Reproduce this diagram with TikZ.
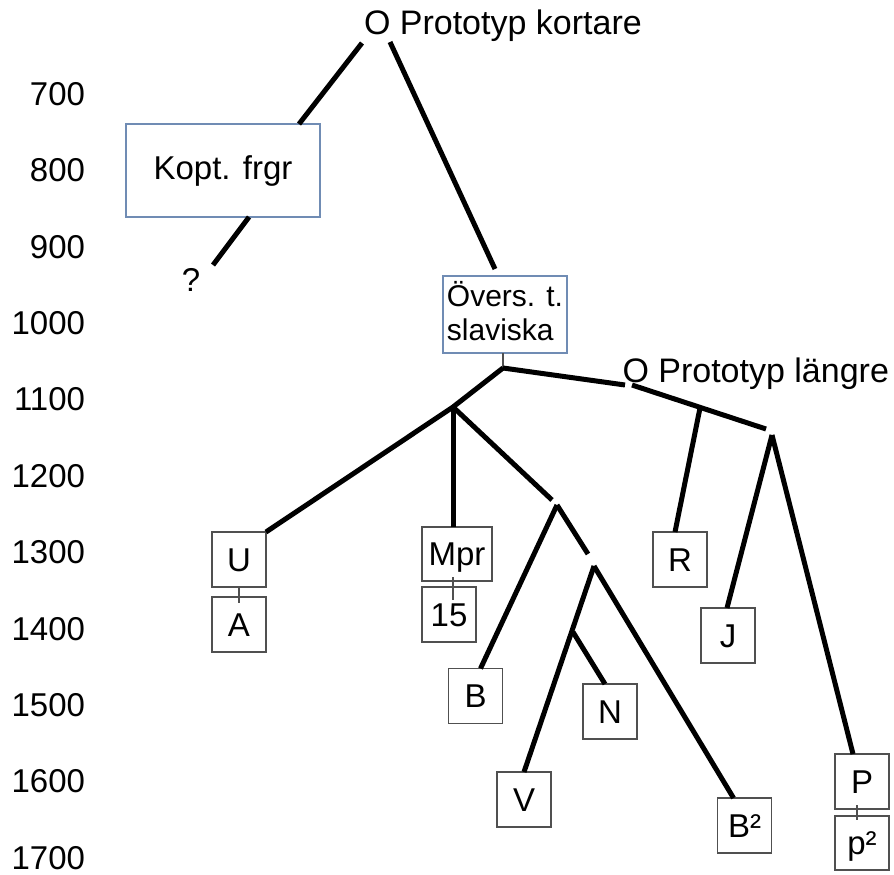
\documentclass[tikz,border=0pt]{standalone}
\usepackage{fontspec}
\setmainfont{Liberation Sans}
\definecolor{noteblue}{RGB}{112,140,180}
\definecolor{boxgray}{RGB}{80,80,80}
\begin{document}
\begin{tikzpicture}[x=1pt,y=-1pt,
  every node/.style={inner sep=0pt,outer sep=0pt},
  big/.style={font=\fontsize{33}{40}\selectfont},
  root/.style={font=\fontsize{34}{40}\selectfont,anchor=base west},
  branch/.style={line width=5pt,black},
  tick/.style={line width=1.2pt,boxgray},
  lbox/.style={draw=boxgray,line width=1.5pt,minimum width=54pt,minimum height=55pt,
    text height=23.6pt,text depth=0pt,big},
  nbox/.style={draw=noteblue,line width=1.5pt},
  year/.style={big,anchor=east}]
\useasboundingbox (0,0) rectangle (894,875);

% time axis
\foreach \yr [count=\i from 0] in {700,800,900,1000,1100,1200,1300,1400,1500,1600,1700}
  \node[year] (y\yr) at (85,{94+76.4*\i}) {\yr};

% roots
\node[root] (kort) at (364,35) {O Prototyp kortare};
\node[root] (lang) at (622.5,382) {O Prototyp längre};

% note boxes
\node[nbox,big,minimum width=194pt,minimum height=93pt,text height=23.6pt,text depth=6pt]
  (kopt) at (223,170.5) {Kopt. frgr};
\node[big] (q) at (191,280) {?};
\node[nbox,font=\fontsize{30}{34}\selectfont,align=left,minimum width=124pt,
  minimum height=77pt,text depth=8pt] (overs) at (505,314.5) {Övers. t.\\slaviska};

% manuscript boxes
\node[lbox] (U) at (239,559.5) {U};
\node[lbox] (A) at (239,624.5) {A};
\node[lbox,minimum width=70pt,minimum height=54pt] (Mpr) at (457,554) {Mpr};
\node[lbox] (m15) at (449,614.5) {15};
\node[lbox] (R) at (680,559.5) {R};
\node[lbox] (J) at (728,635.5) {J};
\node[lbox] (B) at (475.5,696) {B};
\node[lbox] (N) at (610,711.5) {N};
\node[lbox] (V) at (524,799.5) {V};
\node[lbox] (B2) at (744.5,825.5) {B²};
\node[lbox] (P) at (862,781.5) {P};
\node[lbox,minimum height=54pt] (p2) at (862,843) {p²};

% branch points
\coordinate (k0a) at (362,43);
\coordinate (k0b) at (390,42);
\coordinate (qend) at (213,265);
\coordinate (oend) at (495,269);
\coordinate (j1) at (503,368);
\coordinate (j2) at (453,407);
\coordinate (lg1) at (625,385);
\coordinate (lg2) at (632,385);
\coordinate (lg3) at (766,429);
\coordinate (jr) at (700,408);
\coordinate (jp) at (772,435);
\coordinate (j3a) at (552,500);
\coordinate (j3) at (557,505);
\coordinate (j3b) at (588,554);
\coordinate (j4) at (594,566);
\coordinate (j5) at (573,632);

% upper tree
\draw[branch] (k0a) -- ([xshift=76pt]kopt.north);
\draw[branch] ([xshift=26pt]kopt.south) -- (qend);
\draw[branch] (k0b) -- (oend);
\draw[tick] ([xshift=-2pt]overs.south) -- (j1);

% longer prototype line
\draw[branch] (j1) -- (lg1);
\draw[branch] (lg2) -- (lg3);
\draw[branch] (jr) -- ([xshift=-5pt]R.north);
\draw[branch] (jp) -- ([xshift=-1pt]J.north);
\draw[branch] (jp) -- ([xshift=-9pt]P.north);

% shorter branches
\draw[branch] (j1) -- (j2) -- (U.north east);
\draw[branch] (j2) -- (j2 |- Mpr.north);
\draw[branch] (j2) -- (j3a);
\draw[branch] (j3) -- (j3b);
\draw[branch] (j3) -- ([xshift=5pt]B.north);
\draw[branch] (j4) -- (V.north);
\draw[branch] (j4) -- ([xshift=-11pt]B2.north);
\draw[branch] (j5) -- ([xshift=-5pt]N.north);

% links between paired boxes
\draw[tick] (239,587) -- (239,603);
\draw[tick] (453,577) -- (453,600);
\draw[tick] (857,805) -- (857,820);
\end{tikzpicture}
\end{document}
